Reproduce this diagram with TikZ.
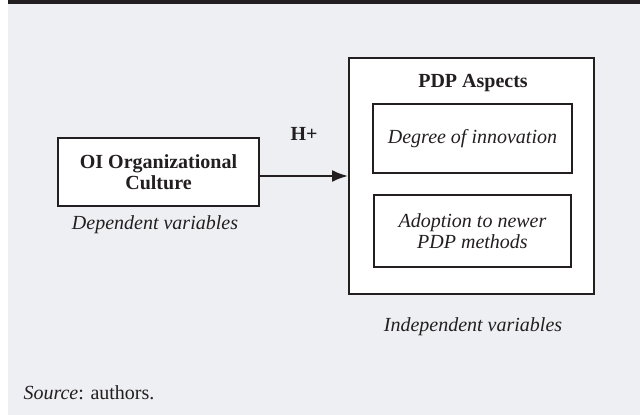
\documentclass[tikz,border=0pt]{standalone}
\usepackage{fontspec}
\setmainfont{Liberation Serif}
\usepackage[HTML]{xcolor}
\usetikzlibrary{positioning, arrows, arrows.meta}

\definecolor{pagegray}{HTML}{EEEFF3}
\definecolor{inkdark}{HTML}{231F20}

\begin{document}
\begin{tikzpicture}[
    x=1pt, y=-1pt,
    every node/.style={font=\fontsize{20}{21}\selectfont, text=inkdark}, % one size for all texts
    varbox/.style={draw=inkdark, line width=2pt, fill=white, align=center}
]
    % page background and the top rule
    \useasboundingbox (0,0) rectangle (640,415);
    \fill[pagegray] (8,0) rectangle (640,415);
    \fill[inkdark] (8,0) rectangle (640,4);

    % Left box, placed at its centre
    \node[varbox, minimum width=201pt, minimum height=68pt] (Culture) at (158.5, 172)
        {\textbf{OI Organizational}\\\textbf{Culture}};
    % Caption under the left box
    \node (Dep) at (155, 225) {\itshape Dependent variables};

    % Outer box on the right
    \node[varbox, minimum width=245pt, minimum height=236pt] (PDP) at (471.5, 176) {};
    \node (PDPTitle) at (473, 83) {\textbf{PDP Aspects}};
    % Two inner boxes
    \node[varbox, minimum width=199pt, minimum height=69pt] (Degree) at (472.5, 138.5)
        {\itshape Degree of innovation};
    \node[varbox, minimum width=197pt, minimum height=72pt] (Adoption) at (472.5, 231)
        {\itshape Adoption to newer\\\itshape PDP methods};
    % Caption under the outer box
    \node (Indep) at (473, 327) {\itshape Independent variables};

    % Hypothesis arrow
    \draw[-{Latex[length=16pt, width=12pt]}, line width=2pt, inkdark]
        (Culture.east |- PDP.west) -- (PDP.west)
        node[pos=0.5, yshift=42pt] (Hyp) {\textbf{H+}};

    % Source line
    \node[anchor=west] (Src) at (20, 393) {\textit{Source}: authors.};

\end{tikzpicture}
\end{document}
